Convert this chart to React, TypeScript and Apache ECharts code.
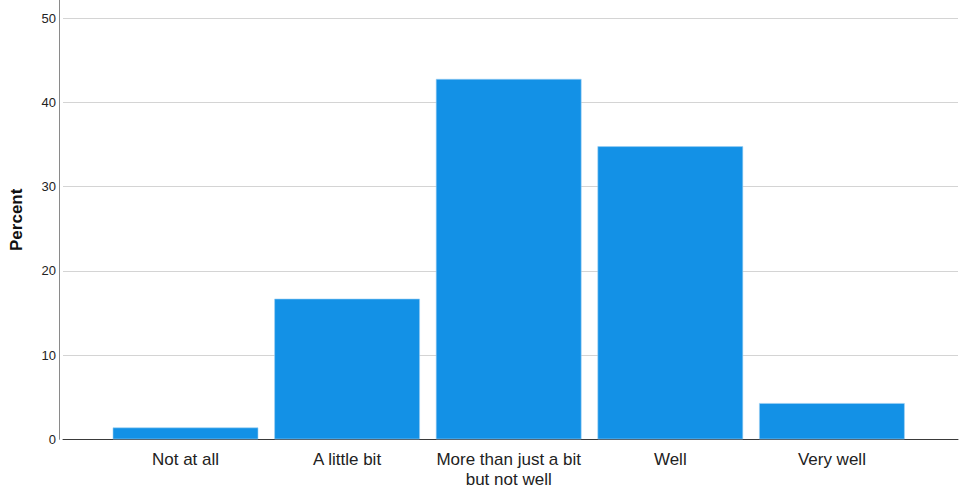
import React, { useEffect, useRef } from "react";
import * as echarts from "echarts";

const categories = ["Not at all", "A little bit", "More than just a bit\nbut not well", "Well", "Very well"];
const percentValues = [1.4, 16.7, 42.8, 34.8, 4.3];
const yTicks = [0, 10, 20, 30, 40, 50];

export default function App() {
  const ref = useRef<HTMLDivElement>(null);
  useEffect(() => {
    if (!ref.current) return;
    const chart = echarts.init(ref.current, undefined, { renderer: "svg" });
    const font = "Arial, 'Liberation Sans', sans-serif";
    const yMin = yTicks[0];
    const yMax = yTicks[yTicks.length - 1];
    chart.setOption({
      animation: false,
      backgroundColor: "#ffffff",
      grid: [
        { left: 59.5, right: 3, top: 18.3, bottom: 51.7 },
        { left: 59.5, right: 3, top: 0, bottom: 51.7 },
        { left: 104.7, right: 48.3, top: 18.3, bottom: 51.7 },
      ],
      xAxis: [
        {
          gridIndex: 0, type: "value", min: 0, max: 1,
          axisLine: { show: true, lineStyle: { color: "#3a3a3a", width: 1 } },
          axisTick: { show: false }, axisLabel: { show: false }, splitLine: { show: false },
        },
        { gridIndex: 1, type: "value", min: 0, max: 1, show: false },
        {
          gridIndex: 2, type: "category", data: categories,
          axisLine: { show: false }, axisTick: { show: false },
          axisLabel: { color: "#222222", fontFamily: font, fontSize: 17, lineHeight: 20, margin: 10, interval: 0 },
        },
      ],
      yAxis: [
        {
          gridIndex: 0, type: "value", min: yMin, max: yMax, interval: 10,
          name: "Percent", nameLocation: "middle", nameGap: 38,
          nameTextStyle: { color: "#111111", fontFamily: font, fontSize: 17, fontWeight: "bold", padding: [0, 0, 0, 18] },
          axisLine: { show: false }, axisTick: { show: false },
          axisLabel: {
            color: "#222222", fontFamily: font, fontSize: 13, margin: 7, padding: [5, 0, 0, 0],
          },
          splitLine: { show: true, lineStyle: { color: "#d4d4d4", width: 1 } },
        },
        {
          gridIndex: 1, type: "value", min: 0, max: 1,
          axisLine: { show: true, lineStyle: { color: "#8a8a8a", width: 1 } },
          axisTick: { show: false }, axisLabel: { show: false }, splitLine: { show: false },
        },
        { gridIndex: 2, type: "value", min: yMin, max: yMax, show: false },
      ],
      series: [
        {
          type: "bar", xAxisIndex: 2, yAxisIndex: 2, data: percentValues,
          barCategoryGap: "9.9%",
          itemStyle: { color: "#1391e6", borderColor: "#9fd0f4", borderWidth: 0.6 },
        },
      ],
    });
    return () => chart.dispose();
  }, []);
  return <div ref={ref} style={{ position: "fixed", left: 0, top: 0, width: 961, height: 491 }} />;
}
